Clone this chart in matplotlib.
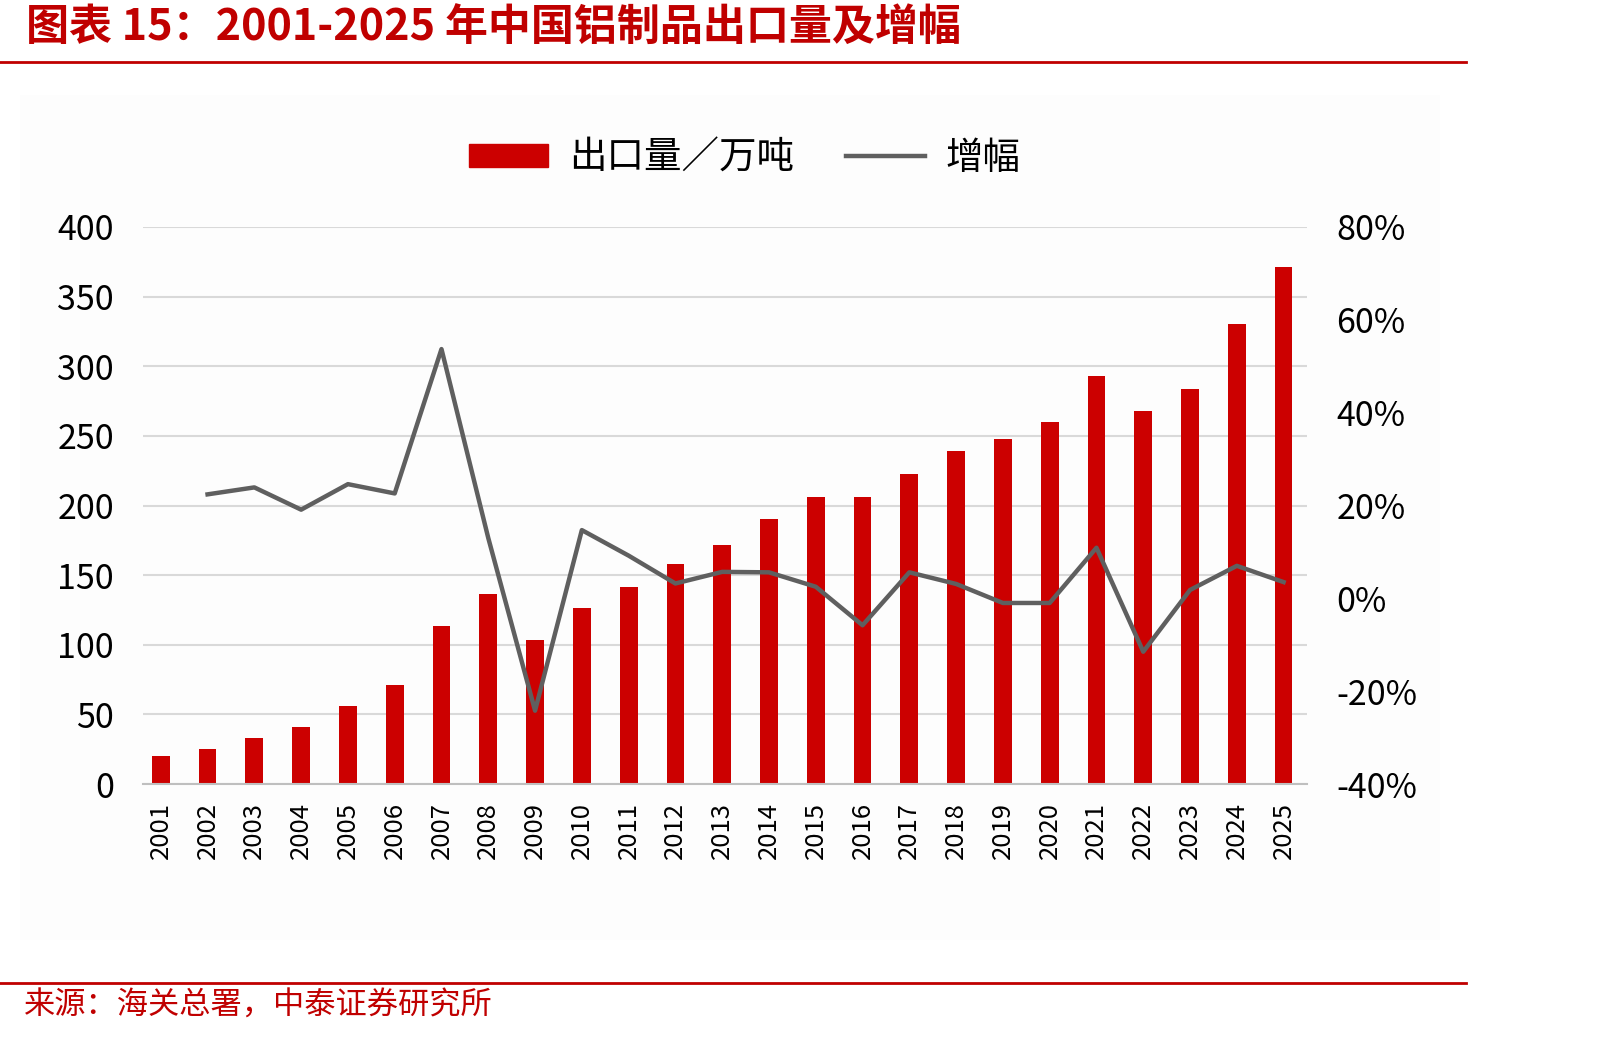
import matplotlib
matplotlib.use("Agg")
import matplotlib.pyplot as plt
from matplotlib.patches import Patch, Rectangle
from matplotlib.lines import Line2D
from matplotlib.ticker import FuncFormatter
import numpy as np

plt.rcParams['font.family'] = ['Noto Sans CJK SC', 'DejaVu Sans']

# data
years = [str(y) for y in range(2001, 2026)]
export_vol = [19.8, 25.3, 32.7, 41.2, 56.1, 70.9, 113.5, 136.6, 103.1, 126.5,
              141.3, 158.1, 171.8, 190.2, 206.4, 206.4, 222.4, 239.2, 247.7,
              260.1, 293.3, 267.8, 283.7, 330.4, 371.4]
growth_pct = [np.nan, 22.4, 23.9, 19.1, 24.6, 22.6, 53.7, 13.0, -24.2, 14.7,
              9.2, 3.2, 5.7, 5.6, 2.5, -5.8, 5.6, 3.1, -1.0, -1.0,
              10.9, -11.5, 1.8, 7.0, 3.5]
left_ticks = [0, 50, 100, 150, 200, 250, 300, 350, 400]
right_ticks = [-40, -20, 0, 20, 40, 60, 80]

RED = '#CC0000'
DARK_RED = '#C00000'
GRAY = '#5F5F5F'

fig = plt.figure(figsize=(16.05, 10.37), dpi=100)

# faint panel behind the chart
fig.patches.append(Rectangle((20 / 1605, 1 - 940 / 1037), 1420 / 1605, 845 / 1037,
                             transform=fig.transFigure, facecolor='#FDFDFD',
                             edgecolor='none', zorder=-10))

# title and rules
fig.text(26 / 1605, 1 - 28 / 1037, '图表 15：2001-2025 年中国铝制品出口量及增幅',
         color=DARK_RED, fontsize=31, fontweight='bold', style='italic',
         va='center', ha='left')
fig.add_artist(Line2D([0, 1466 / 1605], [1 - 62 / 1037] * 2, color=DARK_RED, lw=2,
                      transform=fig.transFigure))
fig.add_artist(Line2D([0, 1466 / 1605], [1 - 983 / 1037] * 2, color=DARK_RED, lw=2,
                      transform=fig.transFigure))
fig.text(24 / 1605, 1 - 1006 / 1037, '来源：海关总署，中泰证券研究所',
         color=DARK_RED, fontsize=22.5, va='center', ha='left')

ax = fig.add_axes([143 / 1605, 1 - 784 / 1037, 1164 / 1605, 557 / 1037])
ax.set_facecolor('none')
x = np.arange(len(years))
ax.bar(x, export_vol, width=0.38, color=RED, zorder=2)
ax.set_ylim(0, 400)
ax.set_yticks(left_ticks)
ax.set_xlim(-0.38, 24.5)
ax.set_xticks(x)
ax.set_xticklabels(years, rotation=90, fontsize=18.5)
ax.grid(axis='y', color='#D9D9D9', lw=1.5, zorder=0)
for s in ['left', 'right', 'top']:
    ax.spines[s].set_visible(False)
ax.spines['bottom'].set_color('#BFBFBF')
ax.spines['bottom'].set_linewidth(1.5)
ax.tick_params(axis='y', length=0, pad=21, labelsize=24.5)
ax.tick_params(axis='x', length=0, pad=13)

ax2 = ax.twinx()
ax2.plot(x, growth_pct, color=GRAY, lw=3.2, zorder=3)
ax2.set_ylim(-40, 80)
ax2.set_yticks(right_ticks)
ax2.yaxis.set_major_formatter(FuncFormatter(lambda v, p: f'{v:.0f}%'))
ax2.tick_params(axis='y', length=0, pad=21, labelsize=24.5)
for s in ax2.spines.values():
    s.set_visible(False)

handles = [Patch(color=RED), Line2D([], [], color=GRAY, lw=3.2)]
fig.legend(handles, ['出口量／万吨', '增幅'], loc='center', ncol=2,
           bbox_to_anchor=(745 / 1605, 1 - 158 / 1037), frameon=False,
           fontsize=27, handlelength=2.1, handleheight=0.55,
           handletextpad=0.55, columnspacing=1.4)

fig.savefig('out.png', dpi=100)
